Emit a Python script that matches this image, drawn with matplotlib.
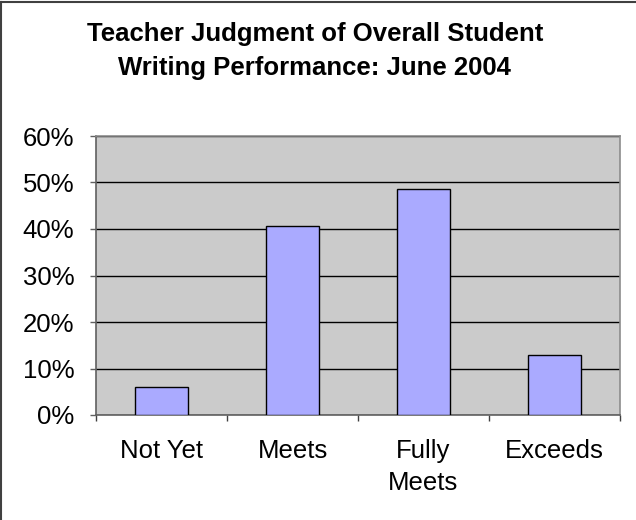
import matplotlib
matplotlib.use("Agg")
import matplotlib.pyplot as plt
from matplotlib.lines import Line2D
from matplotlib.ticker import FuncFormatter, FixedLocator
import numpy as np

categories = ["Not Yet", "Meets", "Fully\nMeets", "Exceeds"]
values = [6.1, 40.7, 48.7, 12.8]
yticks = [0, 10, 20, 30, 40, 50, 60]
title = "Teacher Judgment of Overall Student\nWriting Performance: June 2004"

plt.rcParams["font.family"] = ["Liberation Sans", "DejaVu Sans"]

fig = plt.figure(figsize=(6.36, 5.2), dpi=100)
ax = fig.add_axes([96/636, 1-415/520, (620-96)/636, (415-136)/520])

x = np.arange(len(categories))
ax.set_facecolor("#cbcbcb")
ax.set_axisbelow(True)
ax.yaxis.grid(True, color="black", lw=1)
ax.bar(x, values, width=0.41, color="#aaaaff", edgecolor="black", lw=1, zorder=3)

ax.set_xlim(-0.5, len(categories) - 0.5)
ax.set_ylim(0, 60)
ax.set_yticks(yticks)
ax.yaxis.set_major_formatter(FuncFormatter(lambda v, p: f"{v:.0f}%"))
ax.tick_params(axis="y", direction="out", length=4.5, width=1, color="#606060",
               labelsize=18.5, pad=11)

ax.set_xticks(x)
ax.set_xticklabels(categories, fontsize=18.5, linespacing=1.42, va="top")
ax.tick_params(axis="x", which="major", length=0, pad=17)
ax.xaxis.set_minor_locator(FixedLocator(np.arange(-0.5, len(categories), 1.0)))
ax.tick_params(axis="x", which="minor", direction="out", length=4.5, width=1, color="#404040")

for s in ["left", "bottom"]:
    ax.spines[s].set_color("#606060")
    ax.spines[s].set_linewidth(1.2)
for s in ["top", "right"]:
    ax.spines[s].set_color("#8c8c8c")
    ax.spines[s].set_linewidth(1.2)

fig.text(0.495, 1-51/520, title, ha="center", va="center", fontsize=18.5,
         fontweight="bold", linespacing=1.55)

# figure frame (top and left edges)
fig.add_artist(Line2D([1/636, 1/636], [0, 1-1.5/520], color="#404040", lw=1.5))
fig.add_artist(Line2D([1/636, 1], [1-1.5/520, 1-1.5/520], color="#404040", lw=1.5))

fig.savefig("out.png", dpi=100)
